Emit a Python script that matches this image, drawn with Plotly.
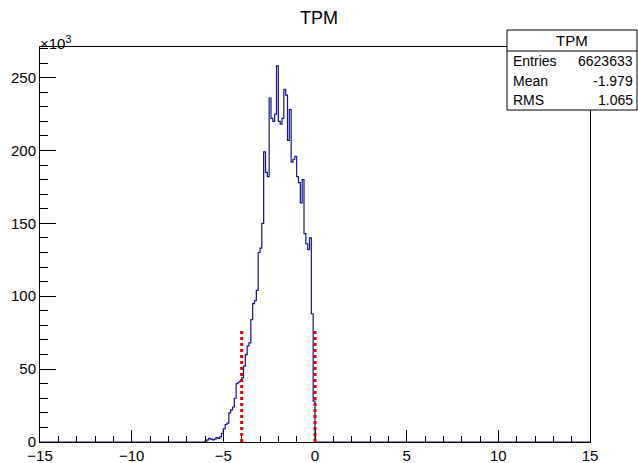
import numpy as np
import plotly.graph_objects as go

# ---- data ----
bin_start = -6.0
bin_width = 0.1
counts = [500, 1500, 2500, 2000, 1500, 2000, 3000, 2500, 3500, 6000,
          9000, 12000, 13000, 20000, 22000, 24000, 30000, 40000, 41000, 42000,
          44000, 52000, 60000, 66000, 68000, 84000, 95000, 97000, 104000, 130000,
          133000, 150000, 199000, 185000, 182000, 236000, 222000, 220000, 225000, 258000,
          220000, 218000, 222000, 242000, 238000, 207000, 228000, 192000, 194000, 196000,
          182000, 178000, 164000, 180000, 143000, 136000, 132000, 140000, 88000, 28000]
cut_lines = [-4.0, 0.0]
cut_height = 77000
y_ticks = [0, 50000, 100000, 150000, 200000, 250000]
y_tick_text = ["0", "50", "100", "150", "200", "250"]
x_ticks = [-15, -10, -5, 0, 5, 10, 15]
stats_labels = ["Entries", "Mean", "RMS"]
stats_values = ["6623633", "-1.979", "1.065"]
hist_name = "TPM"

# ---- build step outline ----
edges = [bin_start + bin_width * i for i in range(len(counts) + 1)]
xs = [-15.0] + edges + [15.0]
ys = [0] + counts + [0, 0]

FONT = "Liberation Sans, Arial, sans-serif"
W, H = 638, 463
L, R, T, B = 40, 48, 47, 21
pw, ph = W - L - R, H - T - B

def px2paper_x(px):
    return (px - L) / pw

def py2paper_y(py):
    return (H - B - py) / ph

fig = go.Figure()
fig.add_trace(go.Scatter(x=xs, y=ys, mode="lines", line=dict(color="#14148f", width=1.2, shape="hv"),
                         hoverinfo="skip", showlegend=False))

shapes = []
for c in cut_lines:
    shapes.append(dict(type="line", xref="x", yref="y", x0=c, x1=c, y0=0, y1=cut_height,
                       line=dict(color="#e00000", width=3, dash="dot"), layer="above"))

# stats box
bx0, bx1 = px2paper_x(507), px2paper_x(637)
by0, by1 = py2paper_y(110), py2paper_y(30)
shapes.append(dict(type="rect", xref="paper", yref="paper", x0=bx0, x1=bx1, y0=by0, y1=by1,
                   fillcolor="white", line=dict(color="black", width=1), layer="above"))
shapes.append(dict(type="line", xref="paper", yref="paper", x0=bx0, x1=bx1,
                   y0=py2paper_y(51), y1=py2paper_y(51), line=dict(color="black", width=1), layer="above"))

annotations = []
annotations.append(dict(xref="paper", yref="paper", x=(bx0 + bx1) / 2, y=py2paper_y(40.5), text=hist_name,
                        showarrow=False, xanchor="center", yanchor="middle",
                        font=dict(family=FONT, size=15, color="black")))
row_y = [61, 81, 100]
for lab, val, ry in zip(stats_labels, stats_values, row_y):
    annotations.append(dict(xref="paper", yref="paper", x=px2paper_x(511), y=py2paper_y(ry), text=lab,
                            showarrow=False, xanchor="left", yanchor="middle",
                            font=dict(family=FONT, size=14, color="black")))
    annotations.append(dict(xref="paper", yref="paper", x=px2paper_x(635), y=py2paper_y(ry), text=val,
                            showarrow=False, xanchor="right", yanchor="middle",
                            font=dict(family=FONT, size=14, color="black")))
annotations.append(dict(xref="paper", yref="paper", x=px2paper_x(38), y=py2paper_y(54), text="×10<sup>3</sup>",
                        showarrow=False, xanchor="left", yanchor="bottom",
                        font=dict(family=FONT, size=15, color="black")))

fig.update_layout(
    width=W, height=H,
    margin=dict(l=L, r=R, t=T, b=B, pad=0, autoexpand=False),
    paper_bgcolor="white", plot_bgcolor="white",
    title=dict(text=hist_name, x=0.5, xanchor="center", y=1 - 18 / H, yanchor="middle",
               font=dict(family=FONT, size=18, color="black")),
    shapes=shapes, annotations=annotations,
    showlegend=False,
    xaxis=dict(range=[-15, 15], tickvals=x_ticks, ticks="inside", ticklen=12, tickcolor="black",
               showline=True, linecolor="black", linewidth=1, mirror=True,
               showgrid=False, zeroline=False, automargin=False,
               minor=dict(dtick=1, ticks="inside", ticklen=6, tickcolor="black", showgrid=False),
               tickfont=dict(family=FONT, size=15, color="black")),
    yaxis=dict(range=[0, 271000], tickvals=y_ticks, ticktext=y_tick_text, ticks="inside", ticklen=16,
               tickcolor="black", showline=True, linecolor="black", linewidth=1, mirror=True,
               showgrid=False, zeroline=False, automargin=False,
               minor=dict(dtick=10000, ticks="inside", ticklen=8, tickcolor="black", showgrid=False),
               tickfont=dict(family=FONT, size=15, color="black")),
)

fig.write_html("out.html", config={"responsive": False, "displayModeBar": False},
               post_script="document.body.style.margin='0';document.body.style.padding='0';document.body.style.overflow='hidden';")
